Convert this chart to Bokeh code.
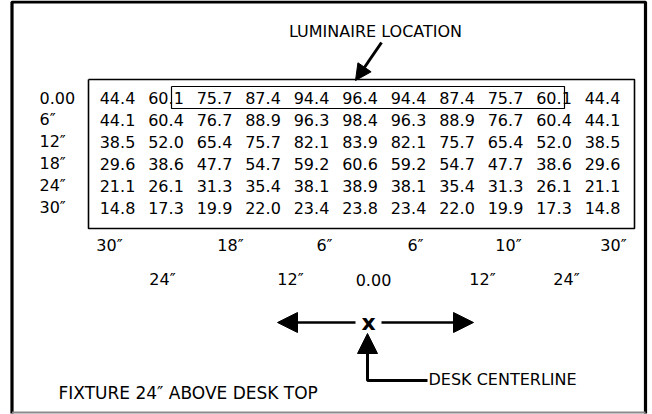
from bokeh.plotting import figure
from bokeh.models import Range1d, Arrow, NormalHead
from bokeh.core.properties import value
from bokeh.embed import file_html
from bokeh.resources import INLINE

# ---- data ----
col_inches = [-30, -24, -18, -12, -6, 0, 6, 12, 18, 24, 30]
row_inches = [0, 6, 12, 18, 24, 30]
row_labels = ["0.00", "6″", "12″", "18″", "24″", "30″"]
values = [
    [44.4, 60.1, 75.7, 87.4, 94.4, 96.4, 94.4, 87.4, 75.7, 60.1, 44.4],
    [44.1, 60.4, 76.7, 88.9, 96.3, 98.4, 96.3, 88.9, 76.7, 60.4, 44.1],
    [38.5, 52.0, 65.4, 75.7, 82.1, 83.9, 82.1, 75.7, 65.4, 52.0, 38.5],
    [29.6, 38.6, 47.7, 54.7, 59.2, 60.6, 59.2, 54.7, 47.7, 38.6, 29.6],
    [21.1, 26.1, 31.3, 35.4, 38.1, 38.9, 38.1, 35.4, 31.3, 26.1, 21.1],
    [14.8, 17.3, 19.9, 22.0, 23.4, 23.8, 23.4, 22.0, 19.9, 17.3, 14.8],
]
scale_labels_top = ["30″", "18″", "6″", "6″", "10″", "30″"]
scale_labels_bottom = ["24″", "12″", "0.00", "12″", "24″"]

FONT = value("DejaVu Sans")

# layout helpers (screen pixel space)
X0, DX = 359.5, 48.5 / 6.0
Y0, DY = 97.0, 22.0 / 6.0
def cx(inch):
    return X0 + inch * DX
def cy(inch):
    return Y0 + inch * DY

W, H = 652, 414
p = figure(width=W, height=H, output_backend="svg", toolbar_location=None,
           x_range=Range1d(0, W), y_range=Range1d(H, 0),
           x_axis_type=None, y_axis_type=None, min_border=0)
p.grid.visible = False
p.outline_line_color = None
p.background_fill_color = "white"
p.border_fill_color = "white"

# outer frame
p.line([11.5, 11.5, 645, 645], [413, 1.5, 1.5, 413], line_color="black", line_width=3.2)
p.line([11.5, 645], [412, 412], line_color="#8a8a8a", line_width=2)

# table box
p.line([88, 634, 634, 88, 88], [79, 79, 228, 228, 79], line_color="black", line_width=1.6)
# luminaire box
p.line([171, 564, 564, 171, 171], [86, 86, 108, 108, 86], line_color="black", line_width=1.2)

# values
xs, ys, ts = [], [], []
for r, rin in enumerate(row_inches):
    for c, cin in enumerate(col_inches):
        xs.append(cx(cin))
        ys.append(cy(rin))
        ts.append(f"{values[r][c]:.1f}")
p.text(xs, ys, text=ts, text_align="center", text_baseline="middle",
       text_font=FONT, text_font_size="16px", text_color="black")

# row labels
p.text([39] * len(row_inches), [cy(r) for r in row_inches], text=row_labels,
       text_align="left", text_baseline="middle", text_font=FONT,
       text_font_size="16px", text_color="black")

# scale labels below table
top_x = [109, 230, 324, 415, 508, 613]
bot_x = [162, 290, 373, 482, 566]
p.text(top_x, [245] * len(top_x), text=scale_labels_top, text_align="center",
       text_baseline="middle", text_font=FONT, text_font_size="16px", text_color="black")
p.text(bot_x, [279] * len(bot_x), text=scale_labels_bottom, text_align="center",
       text_baseline="middle", text_font=FONT, text_font_size="16px", text_color="black")

# luminaire label + arrow
p.text([375], [31], text=["LUMINAIRE LOCATION"], text_align="center", text_baseline="middle",
       text_font=FONT, text_font_size="16px", text_color="black")
p.add_layout(Arrow(end=NormalHead(size=16, fill_color="black", line_color="black"),
                   x_start=381, y_start=42, x_end=355, y_end=80,
                   line_color="black", line_width=3))

# desk centerline arrows
p.text([368], [322], text=["x"], text_align="center", text_baseline="middle",
       text_font=FONT, text_font_size="22px", text_font_style="bold", text_color="black")
p.add_layout(Arrow(end=NormalHead(size=20, fill_color="black", line_color="black"),
                   x_start=355, y_start=322, x_end=277, y_end=322,
                   line_color="black", line_width=2.7))
p.add_layout(Arrow(end=NormalHead(size=20, fill_color="black", line_color="black"),
                   x_start=381, y_start=322, x_end=473, y_end=322,
                   line_color="black", line_width=2.7))
p.line([427, 367, 367], [380, 380, 350], line_color="black", line_width=3)
p.add_layout(Arrow(end=NormalHead(size=20, fill_color="black", line_color="black"),
                   x_start=367, y_start=360, x_end=367, y_end=333,
                   line_color="black", line_width=3))
p.text([428], [379], text=["DESK CENTERLINE"], text_align="left", text_baseline="middle",
       text_font=FONT, text_font_size="16px", text_color="black")
p.text([58], [392], text=["FIXTURE 24″ ABOVE DESK TOP"], text_align="left",
       text_baseline="middle", text_font=FONT, text_font_size="17px", text_color="black")

open("out.html", "w").write(file_html(p, INLINE))
